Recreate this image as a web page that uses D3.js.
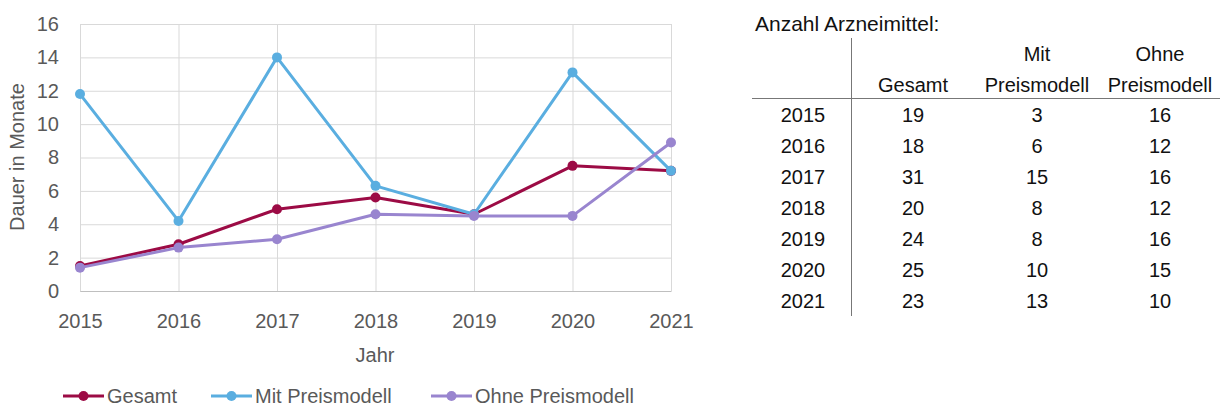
<!DOCTYPE html>
<html>
<head>
<meta charset="utf-8">
<script src="https://cdn.jsdelivr.net/npm/d3@7"></script>
<style>
  body { margin: 0; background: #fff; }
  svg text { font-family: "Liberation Sans", Arial, sans-serif; }
</style>
</head>
<body>
<script>
const years = [2015, 2016, 2017, 2018, 2019, 2020, 2021];
const gesamt = [1.5, 2.8, 4.9, 5.6, 4.6, 7.5, 7.2];
const mitPreismodell = [11.8, 4.2, 14.0, 6.3, 4.6, 13.1, 7.2];
const ohnePreismodell = [1.4, 2.6, 3.1, 4.6, 4.5, 4.5, 8.9];
const yTicks = [0, 2, 4, 6, 8, 10, 12, 14, 16];

// table data
const countGesamt = [19, 18, 31, 20, 24, 25, 23];
const countMit = [3, 6, 15, 8, 8, 10, 13];
const countOhne = [16, 12, 16, 12, 16, 15, 10];
const headerTop = ['', '', 'Mit', 'Ohne'];
const headerBottom = ['', 'Gesamt', 'Preismodell', 'Preismodell'];

const series = [
  { name: 'Gesamt', values: gesamt, color: '#9c0b45' },
  { name: 'Mit Preismodell', values: mitPreismodell, color: '#5aaee0' },
  { name: 'Ohne Preismodell', values: ohnePreismodell, color: '#9985cf' },
];

const width = 1220;
const height = 407;
const chartFont = 20;
const tableFont = 20;
const svg = d3
  .select('body')
  .append('svg')
  .attr('width', width)
  .attr('height', height);

const x = d3.scalePoint().domain(years).range([80, 671]);
const y = d3.scaleLinear().domain([0, 16]).range([291, 24]);

// gridlines
const grid = svg.append('g').attr('stroke', '#d9d9d9').attr('stroke-width', 1);
grid
  .selectAll('.hg')
  .data(yTicks)
  .enter()
  .append('line')
  .attr('x1', 80)
  .attr('x2', 671)
  .attr('y1', (d) => y(d) + 0.5)
  .attr('y2', (d) => y(d) + 0.5);
grid
  .selectAll('.vg')
  .data(years)
  .enter()
  .append('line')
  .attr('x1', (d) => x(d) + 0.5)
  .attr('x2', (d) => x(d) + 0.5)
  .attr('y1', y(16))
  .attr('y2', y(0));

// axes
const yAxis = svg
  .append('g')
  .attr('transform', 'translate(80,0)')
  .call(d3.axisLeft(y).tickValues(yTicks).tickSize(0).tickPadding(21));
yAxis.select('.domain').remove();
yAxis.selectAll('text').attr('font-size', chartFont).attr('fill', '#595959');

const xAxis = svg
  .append('g')
  .attr('transform', 'translate(0,291)')
  .call(d3.axisBottom(x).tickSize(0).tickPadding(23).tickFormat(d3.format('d')));
xAxis.select('.domain').attr('stroke', '#bfbfbf');
xAxis.selectAll('text').attr('font-size', chartFont).attr('fill', '#595959');

svg
  .append('text')
  .attr('transform', 'translate(24,157) rotate(-90)')
  .attr('text-anchor', 'middle')
  .attr('font-size', chartFont)
  .attr('fill', '#595959')
  .text('Dauer in Monate');

svg
  .append('text')
  .attr('x', 375)
  .attr('y', 362)
  .attr('text-anchor', 'middle')
  .attr('font-size', chartFont)
  .attr('fill', '#595959')
  .text('Jahr');

// lines
const line = d3
  .line()
  .x((d, i) => x(years[i]))
  .y((d) => y(d));

const lines = svg.append('g');
series.forEach((s) => {
  lines
    .append('path')
    .attr('d', line(s.values))
    .attr('fill', 'none')
    .attr('stroke', s.color)
    .attr('stroke-width', 3)
    .attr('stroke-linejoin', 'round');
  lines
    .selectAll(null)
    .data(s.values)
    .enter()
    .append('circle')
    .attr('cx', (d, i) => x(years[i]))
    .attr('cy', (d) => y(d))
    .attr('r', 5)
    .attr('fill', s.color);
});

// legend
const legendX = [63, 211, 431];
const legend = svg.append('g').attr('transform', 'translate(0,396)');
series.forEach((s, i) => {
  const g = legend.append('g').attr('transform', `translate(${legendX[i]},0)`);
  g.append('line')
    .attr('x1', 0)
    .attr('x2', 41)
    .attr('stroke', s.color)
    .attr('stroke-width', 3);
  g.append('circle').attr('cx', 20.5).attr('r', 5).attr('fill', s.color);
  g.append('text')
    .attr('x', 44)
    .attr('dy', '0.36em')
    .attr('font-size', chartFont)
    .attr('fill', '#595959')
    .text(s.name);
});

// table
const table = svg.append('g');
table
  .append('text')
  .attr('x', 755)
  .attr('y', 31)
  .attr('font-size', 21)
  .attr('fill', '#111')
  .text('Anzahl Arzneimittel:');

const colX = [803, 913, 1037, 1160];
const rowY = d3.scalePoint().domain(years).range([115, 301]);

table
  .append('line')
  .attr('x1', 851.5)
  .attr('x2', 851.5)
  .attr('y1', 38)
  .attr('y2', 316)
  .attr('stroke', '#777');
table
  .append('line')
  .attr('x1', 752)
  .attr('x2', 1220)
  .attr('y1', 98.5)
  .attr('y2', 98.5)
  .attr('stroke', '#777');

const addRow = (texts, yPos) => {
  texts.forEach((t, i) => {
    table
      .append('text')
      .attr('x', colX[i])
      .attr('y', yPos)
      .attr('dy', '0.36em')
      .attr('text-anchor', 'middle')
      .attr('font-size', tableFont)
      .attr('fill', '#111')
      .text(t);
  });
};
addRow(headerTop, 54);
addRow(headerBottom, 85);

const columns = [years, countGesamt, countMit, countOhne];
columns.forEach((col, c) => {
  table
    .selectAll(null)
    .data(col)
    .enter()
    .append('text')
    .attr('x', colX[c])
    .attr('y', (d, i) => rowY(years[i]))
    .attr('dy', '0.36em')
    .attr('text-anchor', 'middle')
    .attr('font-size', tableFont)
    .attr('fill', '#111')
    .text((d) => d);
});
</script>
</body>
</html>
